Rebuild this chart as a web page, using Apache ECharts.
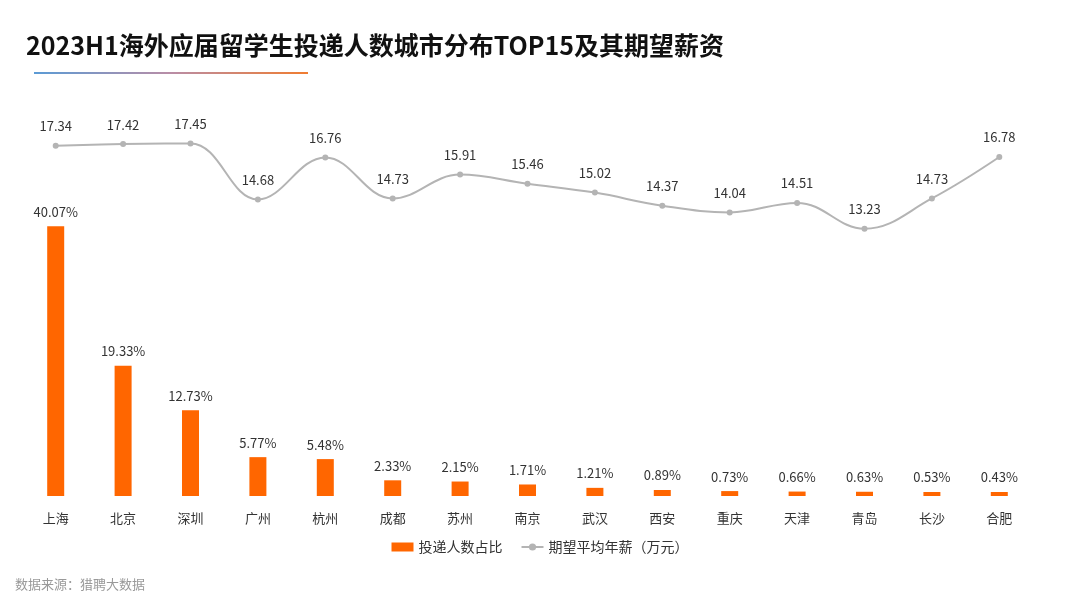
<!DOCTYPE html>
<html lang="zh-CN">
<head>
<meta charset="utf-8" />
<title>2023H1海外应届留学生投递人数城市分布TOP15及其期望薪资</title>
<script src="https://cdn.jsdelivr.net/npm/echarts@6/dist/echarts.min.js"></script>
<style>
html, body { margin: 0; padding: 0; background: #fff; }
#main { width: 1080px; height: 608px; }
</style>
</head>
<body>
<div id="main"></div>
<script>
// 城市
var cities = ['上海', '北京', '深圳', '广州', '杭州', '成都', '苏州', '南京', '武汉', '西安', '重庆', '天津', '青岛', '长沙', '合肥'];
// 投递人数占比(%)
var shareValues = [40.07, 19.33, 12.73, 5.77, 5.48, 2.33, 2.15, 1.71, 1.21, 0.89, 0.73, 0.66, 0.63, 0.53, 0.43];
// 期望平均年薪(万元)
var salaryValues = [17.34, 17.42, 17.45, 14.68, 16.76, 14.73, 15.91, 15.46, 15.02, 14.37, 14.04, 14.51, 13.23, 14.73, 16.78];

var fontCN = '"Microsoft YaHei", "Noto Sans CJK SC", sans-serif';
var chart = echarts.init(document.getElementById('main'));

var option = {
  backgroundColor: '#ffffff',
  animation: false,
  textStyle: { fontFamily: fontCN },
  title: {
    text: '2023H1海外应届留学生投递人数城市分布TOP15及其期望薪资',
    left: 21,
    top: 28,
    textStyle: { fontSize: 25, fontWeight: 'bold', color: '#111', fontFamily: fontCN }
  },
  graphic: [
    {
      type: 'rect',
      shape: { x: 34, y: 72, width: 274, height: 2 },
      style: {
        fill: new echarts.graphic.LinearGradient(0, 0, 1, 0, [
          { offset: 0, color: '#5B9BD5' },
          { offset: 0.5, color: '#B98DA6' },
          { offset: 1, color: '#F07C30' }
        ])
      }
    },
    {
      type: 'text',
      left: 15,
      top: 578,
      style: { text: '数据来源：猎聘大数据', fill: '#999', font: '13px ' + fontCN }
    }
  ],
  legend: {
    bottom: 49,
    left: 'center',
    itemGap: 18,
    itemWidth: 22,
    itemHeight: 9,
    textStyle: { fontSize: 14, color: '#333' },
    data: [
      { name: '投递人数占比', icon: 'rect' },
      { name: '期望平均年薪（万元）' }
    ]
  },
  grid: { left: 22, right: 47, top: 92, bottom: 112 },
  xAxis: {
    type: 'category',
    data: cities,
    axisLine: { show: false },
    axisTick: { show: false },
    axisLabel: { color: '#333', fontSize: 13, margin: 16 }
  },
  yAxis: [
    { type: 'value', min: 0, max: 60, show: false, splitLine: { show: false } },
    { type: 'value', min: 0, max: 20, show: false, splitLine: { show: false } }
  ],
  series: [
    {
      name: '投递人数占比',
      type: 'bar',
      yAxisIndex: 0,
      barWidth: 17,
      barMinHeight: 4,
      data: shareValues,
      itemStyle: { color: '#FF6600' },
      label: {
        show: true,
        position: 'top',
        distance: 8,
        color: '#333',
        fontSize: 13,
        formatter: function (p) { return p.value.toFixed(2) + '%'; }
      }
    },
    {
      name: '期望平均年薪（万元）',
      type: 'line',
      yAxisIndex: 1,
      smooth: 0.4,
      symbol: 'circle',
      symbolSize: 6,
      data: salaryValues,
      lineStyle: { color: '#B4B4B4', width: 2 },
      itemStyle: { color: '#B4B4B4' },
      label: {
        show: true,
        position: 'top',
        distance: 10,
        color: '#333',
        fontSize: 13,
        formatter: function (p) { return p.value.toFixed(2); }
      }
    }
  ]
};

chart.setOption(option);
</script>
</body>
</html>
